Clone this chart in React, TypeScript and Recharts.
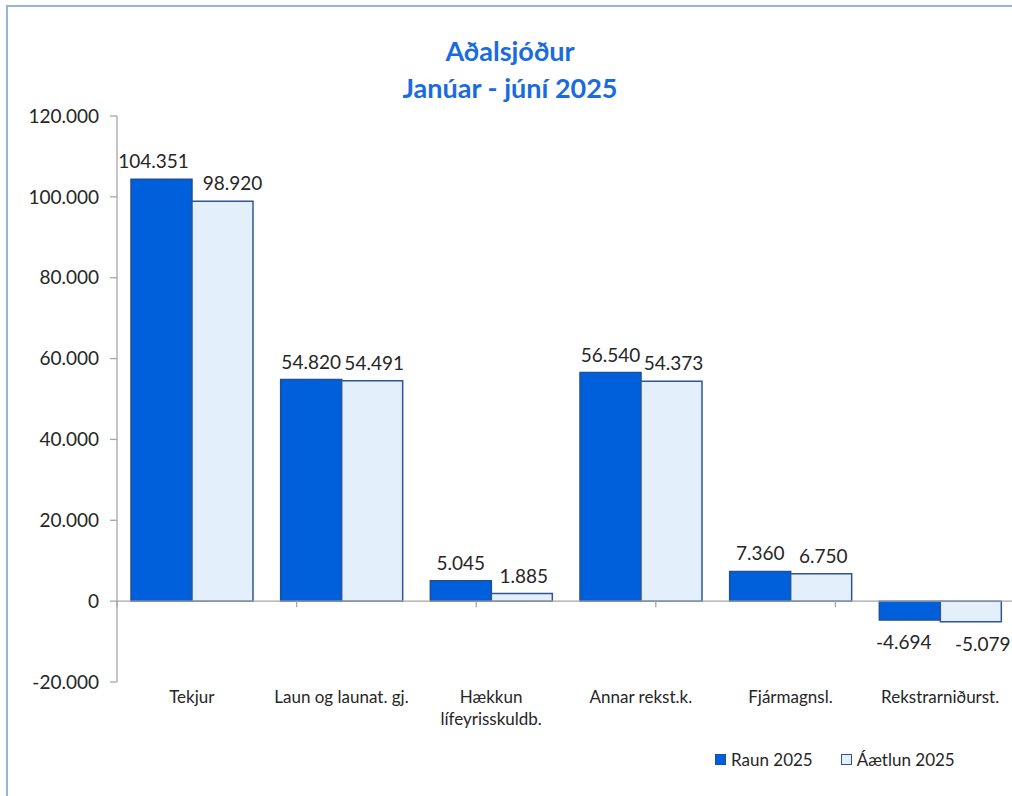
import React from 'react';
import { BarChart, Bar, XAxis, YAxis, ReferenceLine, LabelList } from 'recharts';

const categories = ['Tekjur', 'Laun og launat. gj.', 'Hækkun\nlífeyrisskuldb.', 'Annar rekst.k.', 'Fjármagnsl.', 'Rekstrarniðurst.'];
const raun2025 = [104351, 54820, 5045, 56540, 7360, -4694];
const aaetlun2025 = [98920, 54491, 1885, 54373, 6750, -5079];
const yTicks = [-20000, 0, 20000, 40000, 60000, 80000, 100000, 120000];
const boundaryTicks = [0, 1, 2, 3, 4, 5, 6];
const seriesNames = ['Raun 2025', 'Áætlun 2025'];
const titleLines = ['Aðalsjóður', 'Janúar - júní 2025'];

const FONT = 'Lato, "Open Sans", "DejaVu Sans", sans-serif';
const BLUE = '#0060dc';
const BLUE_STROKE = '#1f4f96';
const LIGHT = '#e4effc';
const LIGHT_STROKE = '#2f5597';
const AXIS = '#a6a6a6';
const TEXT = '#262626';

// horizontal nudges for crowded label pairs (style only)
const FIRST_GROUP_NUDGE = [-8, 10];
const NEGATIVE_NUDGE = [-6, 12];

const data = categories.map((c, i) => ({ name: c, raun: raun2025[i], aaetlun: aaetlun2025[i] }));

const fmt = (v: number) => {
  const s = Math.abs(Math.round(v)).toString().replace(/\B(?=(\d{3})+(?!\d))/g, '.');
  return (v < 0 ? '-' : '') + s;
};

const makeLabel = (series: number) => (props: any) => {
  const { x, y, width, height, value, index } = props;
  const top = Math.min(y, y + height);
  const bottom = Math.max(y, y + height);
  let nudge = series === 1 ? 2 : 0;
  if (index === 0) nudge = FIRST_GROUP_NUDGE[series];
  if (value < 0) nudge = NEGATIVE_NUDGE[series];
  const cx = x + width / 2 + nudge;
  const ty = value < 0 ? bottom + 29 : top - 11;
  return (
    <text x={cx} y={ty} textAnchor="middle" fontSize={19} fill={TEXT} fontFamily={FONT}>
      {fmt(value)}
    </text>
  );
};

const CategoryTick = (props: any) => {
  const { x, y, payload } = props;
  const lines = String(payload.value).split('\n');
  return (
    <g>
      {lines.map((l, i) => (
        <text key={i} x={x} y={y + 21 + i * 22} textAnchor="middle" fontSize={17} fill={TEXT} fontFamily={FONT}>
          {l}
        </text>
      ))}
    </g>
  );
};

export default function App() {
  return (
    <div style={{ position: 'fixed', left: 0, top: 0, width: 1012, height: 796, overflow: 'hidden', background: '#fff' }}>
      <div
        style={{
          position: 'absolute',
          left: 6,
          top: 5,
          width: 1100,
          height: 900,
          borderTop: '2px solid #93b4de',
          borderLeft: '2px solid #93b4de',
        }}
      />
      <div
        style={{
          position: 'absolute',
          left: 0,
          width: 1020,
          top: 32,
          textAlign: 'center',
          fontFamily: FONT,
          fontWeight: 700,
          fontSize: 27,
          lineHeight: '37px',
          color: '#1a6be0',
        }}
      >
        {titleLines.map((t, i) => (
          <div key={i}>{t}</div>
        ))}
      </div>
      <div style={{ position: 'absolute', left: 0, top: 0 }}>
        <BarChart
          width={1040}
          height={796}
          data={data}
          margin={{ top: 116, right: 25, bottom: 74, left: 0 }}
          barCategoryGap={14}
          barGap={0}
        >
          <XAxis
            dataKey="name"
            xAxisId="cat"
            height={40}
            axisLine={false}
            tickLine={false}
            tickSize={0}
            tickMargin={0}
            interval={0}
            tick={<CategoryTick />}
          />
          <XAxis xAxisId="num" type="number" domain={[0, 6]} ticks={boundaryTicks} hide />
          <YAxis
            width={117}
            domain={[-20000, 120000]}
            ticks={yTicks}
            interval={0}
            tickFormatter={fmt}
            axisLine={{ stroke: AXIS, strokeWidth: 1.3 }}
            tickLine={{ stroke: AXIS, strokeWidth: 1.3 }}
            tickSize={7}
            tickMargin={11}
            tick={{ fontSize: 19, fill: TEXT, fontFamily: FONT }}
          />
          <ReferenceLine xAxisId="num" y={0} stroke={AXIS} strokeWidth={1.3} />
          {boundaryTicks.map((b) => (
            <ReferenceLine
              key={b}
              xAxisId="num"
              segment={[
                { x: b, y: 0 },
                { x: b, y: -1500 },
              ]}
              stroke={AXIS}
              strokeWidth={1.3}
            />
          ))}
          <Bar xAxisId="cat" dataKey="raun" name={seriesNames[0]} fill={BLUE} stroke={BLUE_STROKE} strokeWidth={1.5} isAnimationActive={false}>
            <LabelList dataKey="raun" content={makeLabel(0)} />
          </Bar>
          <Bar xAxisId="cat" dataKey="aaetlun" name={seriesNames[1]} fill={LIGHT} stroke={LIGHT_STROKE} strokeWidth={1.5} isAnimationActive={false}>
            <LabelList dataKey="aaetlun" content={makeLabel(1)} />
          </Bar>
        </BarChart>
      </div>
      <div
        style={{
          position: 'absolute',
          left: 715,
          top: 749,
          display: 'flex',
          alignItems: 'center',
          fontFamily: FONT,
          fontSize: 17,
          color: TEXT,
          whiteSpace: 'nowrap',
        }}
      >
        {seriesNames.map((n, i) => (
          <div key={n} style={{ display: 'flex', alignItems: 'center', marginRight: i === 0 ? 28 : 0 }}>
            <span
              style={{
                display: 'inline-block',
                width: 9,
                height: 9,
                background: i === 0 ? BLUE : LIGHT,
                border: `1.5px solid ${i === 0 ? BLUE_STROKE : LIGHT_STROKE}`,
                marginRight: 5,
              }}
            />
            <span>{n}</span>
          </div>
        ))}
      </div>
    </div>
  );
}
